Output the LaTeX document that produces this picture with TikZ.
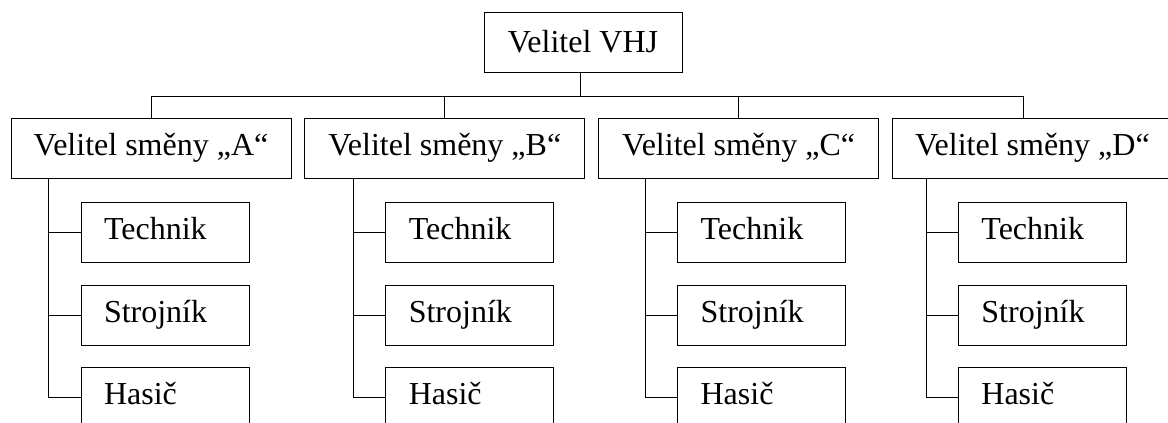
\documentclass[tikz,border=0pt]{standalone}
\usepackage{fontspec}
\setmainfont{Liberation Serif}
\usetikzlibrary{positioning}
\tikzset{
line width=1pt,
every node/.style={font=\fontsize{16pt}{19pt}\selectfont},
}

\begin{document}
\begin{tikzpicture}
        [node distance=6.5pt,
        chief/.style={draw, rectangle, minimum width=99pt, minimum height=30pt},
        leader/.style={draw, rectangle, minimum width=140pt, minimum height=30pt, inner sep=0pt},
        crew/.style={draw, rectangle, text width=61pt, inner xsep=11.5pt, inner ysep=0pt,
            minimum height=30pt, align=left, text height=0.9em, text depth=0.22em}
        ]
        \useasboundingbox (0,0) rectangle (584pt,-211.5pt);

        \node [chief] (vhj) at (291.5pt,-21pt) {Velitel VHJ};

        \node [leader] (sa) at (75.5pt,-74pt) {Velitel směny „A“};
        \node [leader] (sb) [right=of sa] {Velitel směny „B“};
        \node [leader] (sc) [right=of sb] {Velitel směny „C“};
        \node [leader] (sd) [right=of sc] {Velitel směny „D“};

        \coordinate (bus) at ([xshift=-1.5pt,yshift=-12pt]vhj.south);
        \coordinate (sdtop) at ([xshift=-4.5pt]sd.north);
        \draw (vhj.south -| bus) -- (bus);
        \draw (sa.north) |- (bus) -| (sdtop);
        \draw (sb) -- (sb.north |- bus);
        \draw (sc) -- (sc.north |- bus);

        % smena A
        \coordinate (ar) at ([xshift=19pt]sa.south west);
        \node [crew] (at) [below right=12pt and 16pt of ar] {Technik};
        \node [crew] (as) [below=11pt of at] {Strojník};
        \node [crew] (ah) [below=10.5pt of as] {Hasič};
        \draw (ar) |- (ah);
        \draw (at.west -| ar) -- (at);
        \draw (as.west -| ar) -- (as);

        % smena B
        \coordinate (br) at ([xshift=24.5pt]sb.south west);
        \node [crew] (bt) [below right=12pt and 16pt of br] {Technik};
        \node [crew] (bs) [below=11pt of bt] {Strojník};
        \node [crew] (bh) [below=10.5pt of bs] {Hasič};
        \draw (br) |- (bh);
        \draw (bt.west -| br) -- (bt);
        \draw (bs.west -| br) -- (bs);

        % smena C
        \coordinate (cr) at ([xshift=23.5pt]sc.south west);
        \node [crew] (ct) [below right=12pt and 16pt of cr] {Technik};
        \node [crew] (cs) [below=11pt of ct] {Strojník};
        \node [crew] (ch) [below=10.5pt of cs] {Hasič};
        \draw (cr) |- (ch);
        \draw (ct.west -| cr) -- (ct);
        \draw (cs.west -| cr) -- (cs);

        % smena D
        \coordinate (dr) at ([xshift=17pt]sd.south west);
        \node [crew] (dt) [below right=12pt and 16pt of dr] {Technik};
        \node [crew] (ds) [below=11pt of dt] {Strojník};
        \node [crew] (dh) [below=10.5pt of ds] {Hasič};
        \draw (dr) |- (dh);
        \draw (dt.west -| dr) -- (dt);
        \draw (ds.west -| dr) -- (ds);
\end{tikzpicture}
\end{document}
